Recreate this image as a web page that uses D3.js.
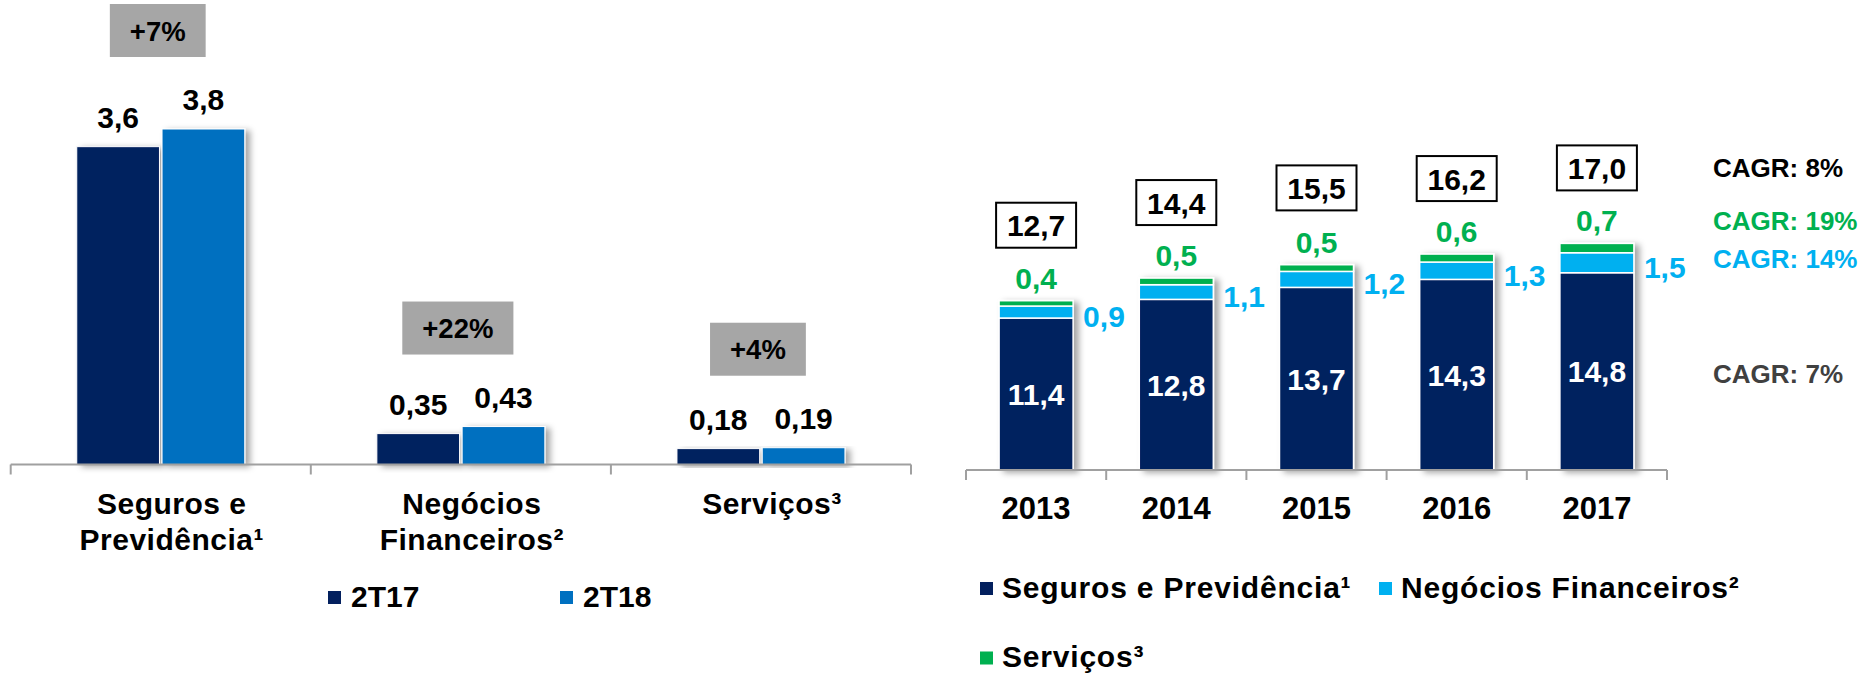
<!DOCTYPE html>
<meta charset="utf-8">
<script src="https://d3js.org/d3.v7.min.js"></script>
<style>
  body { margin: 0; background: #fff; }
  text { font-family: "Liberation Sans", Arial, sans-serif; font-weight: bold; }
</style>
<div id="my_dataviz"></div>
<script>

// ---- data: left chart (quarter comparison)
var leftCategories = ["Seguros e Previdência¹", "Negócios Financeiros²", "Serviços³"];
var leftLabelLines = [["Seguros e", "Previdência¹"], ["Negócios", "Financeiros²"], ["Serviços³"]];
var leftSeries = ["2T17", "2T18"];
var values2T17 = [3.6, 0.35, 0.18];
var values2T18 = [3.8, 0.43, 0.19];
var growthLabels = ["+7%", "+22%", "+4%"];

// ---- data: right chart (yearly stacked)
var years = ["2013", "2014", "2015", "2016", "2017"];
var stackSeries = ["Seguros e Previdência¹", "Negócios Financeiros²", "Serviços³"];
var seguros = [11.4, 12.8, 13.7, 14.3, 14.8];
var negocios = [0.9, 1.1, 1.2, 1.3, 1.5];
var servicos = [0.4, 0.5, 0.5, 0.6, 0.7];
var totals = [12.7, 14.4, 15.5, 16.2, 17.0];
var cagrLabels = ["CAGR: 8%", "CAGR: 19%", "CAGR: 14%", "CAGR: 7%"];

var navy = "#03205e", midBlue = "#0070c0", lightBlue = "#00b0f0", green = "#00b050";
var axisGray = "#a0a0a0";

var br = d3.formatLocale({decimal: ",", thousands: ".", grouping: [3], currency: ["R$", ""]});
var fmtLeft = br.format(".2~f"), fmtRight = br.format(".1f");

var svg = d3.select("#my_dataviz")
  .append("svg")
    .attr("width", 1864)
    .attr("height", 673);

// soft shadow to the right of the bars
var f = svg.append("defs").append("filter")
    .attr("id", "shadow").attr("x", "-20%").attr("y", "-10%")
    .attr("width", "150%").attr("height", "130%");
f.append("feDropShadow")
    .attr("dx", 5).attr("dy", 2).attr("stdDeviation", 3)
    .attr("flood-color", "#000").attr("flood-opacity", 0.35);

// =================== LEFT CHART ===================
var lBase = 464.5;
var x0 = d3.scaleBand().domain(leftCategories).range([10.7, 911]);
var x1 = d3.scaleBand().domain(leftSeries)
    .range([x0.bandwidth() / 2 - 84, x0.bandwidth() / 2 + 84]).paddingInner(0.03);
var yL = d3.scaleLinear().domain([0, 3.8]).range([lBase, lBase - 335.5]);
var colorL = d3.scaleOrdinal().domain(leftSeries).range([navy, midBlue]);

var leftData = leftCategories.map(function(c, i) {
  return {cat: c, lines: leftLabelLines[i], growth: growthLabels[i],
          vals: [{s: "2T17", v: values2T17[i]}, {s: "2T18", v: values2T18[i]}]};
});

var lg = svg.selectAll(".lgroup")
  .data(leftData)
  .enter()
  .append("g")
    .attr("transform", function(d) { return "translate(" + x0(d.cat) + ",0)"; });

lg.append("g").attr("filter", "url(#shadow)")
  .selectAll("rect")
  .data(function(d) { return d.vals; })
  .enter()
  .append("rect")
    .attr("x", function(d) { return x1(d.s); })
    .attr("y", function(d) { return yL(d.v); })
    .attr("width", x1.bandwidth())
    .attr("height", function(d) { return lBase - yL(d.v); })
    .attr("fill", function(d) { return colorL(d.s); })
    .attr("stroke", "#fff")
    .attr("stroke-width", 1);

lg.selectAll(".vlab")
  .data(function(d) { return d.vals; })
  .enter()
  .append("text")
    .attr("x", function(d) { return x1(d.s) + x1.bandwidth() / 2; })
    .attr("y", function(d) { return yL(d.v) - 19; })
    .attr("text-anchor", "middle")
    .style("font-size", "30px")
    .text(function(d) { return fmtLeft(d.v); });

// growth boxes
lg.each(function(d) {
  var g = d3.select(this);
  var maxV = d3.max(d.vals, function(v) { return v.v; });
  var cx = x0.bandwidth() / 2 - 3;
  var t = g.append("text")
      .attr("x", cx)
      .attr("y", yL(maxV) - 72 - 26.5 + 10)
      .attr("text-anchor", "middle")
      .style("font-size", "27.5px")
      .text(d.growth);
  var w = t.node().getComputedTextLength() + 40;
  g.insert("rect", "text")
      .attr("x", cx - w / 2)
      .attr("y", yL(maxV) - 72 - 53)
      .attr("width", w)
      .attr("height", 53)
      .attr("fill", "#a6a6a6");
});

// category labels
lg.append("text")
    .attr("text-anchor", "middle")
    .style("font-size", "30px")
    .style("letter-spacing", "0.5px")
  .selectAll("tspan")
  .data(function(d) { return d.lines; })
  .enter()
  .append("tspan")
    .attr("x", x0.bandwidth() / 2 + 11)
    .attr("y", function(d, i) { return 513.5 + i * 36.7; })
    .text(function(d) { return d; });

// axis with tick marks at category boundaries
svg.append("line")
    .attr("x1", x0.range()[0]).attr("x2", x0.range()[1])
    .attr("y1", lBase).attr("y2", lBase)
    .attr("stroke", axisGray).attr("stroke-width", 2);
svg.selectAll(".ltick")
  .data(leftCategories.concat(["end"]))
  .enter()
  .append("line")
    .attr("x1", function(d, i) { return x0.range()[0] + i * x0.step(); })
    .attr("x2", function(d, i) { return x0.range()[0] + i * x0.step(); })
    .attr("y1", lBase).attr("y2", lBase + 10)
    .attr("stroke", axisGray).attr("stroke-width", 2);

// left legend
var ll = svg.selectAll(".lleg")
  .data(leftSeries)
  .enter()
  .append("g")
    .attr("transform", function(d, i) { return "translate(" + (328 + i * 232) + ",0)"; });
ll.append("rect")
    .attr("x", 0).attr("y", 591).attr("width", 13).attr("height", 13)
    .attr("fill", function(d) { return colorL(d); });
ll.append("text")
    .attr("x", 23).attr("y", 607)
    .style("font-size", "30px")
    .text(function(d) { return d; });

// =================== RIGHT CHART ===================
var rBase = 470;
var xR = d3.scaleBand().domain(years).range([966, 1667])
    .paddingInner(0.472).paddingOuter(0.236);
var yR = d3.scaleLinear().domain([0, 17]).range([rBase, rBase - 226.6]);
var colorR = d3.scaleOrdinal().domain(stackSeries).range([navy, lightBlue, green]);

var table = years.map(function(y, i) {
  var row = {year: y, total: totals[i]};
  row[stackSeries[0]] = seguros[i];
  row[stackSeries[1]] = negocios[i];
  row[stackSeries[2]] = servicos[i];
  return row;
});
var stacked = d3.stack().keys(stackSeries)(table);

// bars (one shadowed group per year)
var yearG = svg.selectAll(".ybar")
  .data(table)
  .enter()
  .append("g")
    .attr("filter", "url(#shadow)");
yearG.selectAll("rect")
  .data(function(d, i) { return stacked.map(function(s) { return {key: s.key, p: s[i], year: d.year}; }); })
  .enter()
  .append("rect")
    .attr("x", function(d) { return xR(d.year); })
    .attr("y", function(d) { return yR(d.p[1]); })
    .attr("width", xR.bandwidth())
    .attr("height", function(d) { return yR(d.p[0]) - yR(d.p[1]); })
    .attr("fill", function(d) { return colorR(d.key); })
    .attr("stroke", "#fff")
    .attr("stroke-width", 1.5);

// white labels inside navy segment
svg.selectAll(".navylab")
  .data(stacked[0])
  .enter()
  .append("text")
    .attr("x", function(d) { return xR(d.data.year) + xR.bandwidth() / 2; })
    .attr("y", function(d) { return (yR(d[0]) + yR(d[1])) / 2 + 11; })
    .attr("text-anchor", "middle")
    .attr("fill", "#fff")
    .style("font-size", "30px")
    .text(function(d) { return fmtRight(d[1] - d[0]); });

// light blue labels to the right of the bar
svg.selectAll(".bluelab")
  .data(stacked[1])
  .enter()
  .append("text")
    .attr("x", function(d) { return xR(d.data.year) + xR.bandwidth() + 10; })
    .attr("y", function(d) { return (yR(d[0]) + yR(d[1])) / 2 + 15; })
    .attr("fill", lightBlue)
    .style("font-size", "30px")
    .text(function(d) { return fmtRight(d.data[stackSeries[1]]); });

// green labels above the bar
svg.selectAll(".greenlab")
  .data(stacked[2])
  .enter()
  .append("text")
    .attr("x", function(d) { return xR(d.data.year) + xR.bandwidth() / 2; })
    .attr("y", function(d) { return yR(d[1]) - 12; })
    .attr("text-anchor", "middle")
    .attr("fill", green)
    .style("font-size", "30px")
    .text(function(d) { return fmtRight(d.data[stackSeries[2]]); });

// total boxes
var tb = svg.selectAll(".totbox")
  .data(table)
  .enter()
  .append("g");
tb.append("rect")
    .attr("x", function(d) { return xR(d.year) + xR.bandwidth() / 2 - 40; })
    .attr("y", function(d) { return yR(d.total) - 98; })
    .attr("width", 80)
    .attr("height", 45)
    .attr("fill", "#fff")
    .attr("stroke", "#000")
    .attr("stroke-width", 2);
tb.append("text")
    .attr("x", function(d) { return xR(d.year) + xR.bandwidth() / 2; })
    .attr("y", function(d) { return yR(d.total) - 98 + 22.5 + 11; })
    .attr("text-anchor", "middle")
    .style("font-size", "30px")
    .text(function(d) { return fmtRight(d.total); });

// axis
svg.append("line")
    .attr("x1", xR.range()[0]).attr("x2", xR.range()[1])
    .attr("y1", rBase).attr("y2", rBase)
    .attr("stroke", axisGray).attr("stroke-width", 2);
svg.selectAll(".rtick")
  .data(years.concat(["end"]))
  .enter()
  .append("line")
    .attr("x1", function(d, i) { return xR.range()[0] + i * xR.step(); })
    .attr("x2", function(d, i) { return xR.range()[0] + i * xR.step(); })
    .attr("y1", rBase).attr("y2", rBase + 10)
    .attr("stroke", axisGray).attr("stroke-width", 2);
svg.selectAll(".yearlab")
  .data(years)
  .enter()
  .append("text")
    .attr("x", function(d) { return xR(d) + xR.bandwidth() / 2; })
    .attr("y", 518.5)
    .attr("text-anchor", "middle")
    .style("font-size", "31px")
    .text(function(d) { return d; });

// CAGR notes, lined up with the last bar's pieces
var last = years.length - 1;
var cagrY = [
  yR(totals[last]) - 98 + 22.5,                       // total box centre
  yR(stacked[2][last][1]) - 12 - 11,                  // green label centre
  (yR(stacked[1][last][0]) + yR(stacked[1][last][1])) / 2 - 4,
  (yR(stacked[0][last][0]) + yR(stacked[0][last][1])) / 2 + 2
];
var cagrColors = ["#000", green, lightBlue, "#404040"];
svg.selectAll(".cagr")
  .data(cagrLabels)
  .enter()
  .append("text")
    .attr("x", 1713)
    .attr("y", function(d, i) { return cagrY[i] + 9.5; })
    .attr("fill", function(d, i) { return cagrColors[i]; })
    .style("font-size", "26px")
    .text(function(d) { return d; });

// right legend
var rl = svg.selectAll(".rleg")
  .data(stackSeries)
  .enter()
  .append("g")
    .attr("transform", function(d, i) {
      return "translate(" + (i === 1 ? 1379 : 980) + "," + (i === 2 ? 69.5 : 0) + ")";
    });
rl.append("rect")
    .attr("x", 0).attr("y", 582).attr("width", 13).attr("height", 13)
    .attr("fill", function(d) { return colorR(d); });
rl.append("text")
    .attr("x", 22).attr("y", 597.5)
    .style("font-size", "30px")
    .style("letter-spacing", "0.8px")
    .text(function(d) { return d; });

</script>
